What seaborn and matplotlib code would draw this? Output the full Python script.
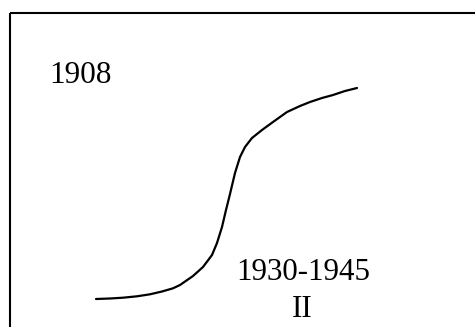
import matplotlib
matplotlib.use("Agg")
import matplotlib.pyplot as plt
import seaborn as sns
import pandas as pd
from matplotlib.patches import Rectangle

# curve (pixel coords, y down)
curve_x = [96, 110, 123, 137, 150, 162, 173, 180, 193, 203, 212, 217, 222, 226, 230,
           235, 240, 245, 252, 262, 273, 287, 300, 310, 322, 333, 345, 357]
curve_y = [299, 298.5, 297.7, 296.3, 294.3, 291.5, 288.3, 285, 276, 267, 255, 243, 227, 210, 194,
           173, 157, 147, 138, 130, 122, 112, 106, 102, 98, 95, 91, 88]

labels = ["1908", "1930-1945", "II"]

sns.set_style("white")
plt.rcParams['font.family'] = ['Liberation Serif', 'DejaVu Serif']

fig = plt.figure(figsize=(4.75, 3.27), dpi=100)
ax = fig.add_axes([0, 0, 1, 1])
ax.set_xlim(0, 475)
ax.set_ylim(327, 0)
ax.axis("off")

# frame (runs off the right and bottom edges)
ax.add_patch(Rectangle((10, 13), 480, 330, fill=False, edgecolor="black", linewidth=1.5))

df = pd.DataFrame({"x": curve_x, "y": curve_y})
sns.lineplot(data=df, x="x", y="y", sort=False, color="black", linewidth=1.6, ax=ax)

ax.text(49, 83, labels[0], fontsize=22.5, color="black", ha="left", va="baseline")
ax.text(303.5, 280, labels[1], fontsize=22.3, color="black", ha="center", va="baseline")
ax.text(302, 317, labels[2], fontsize=22.3, color="black", ha="center", va="baseline")

fig.savefig("out.png", dpi=100)
